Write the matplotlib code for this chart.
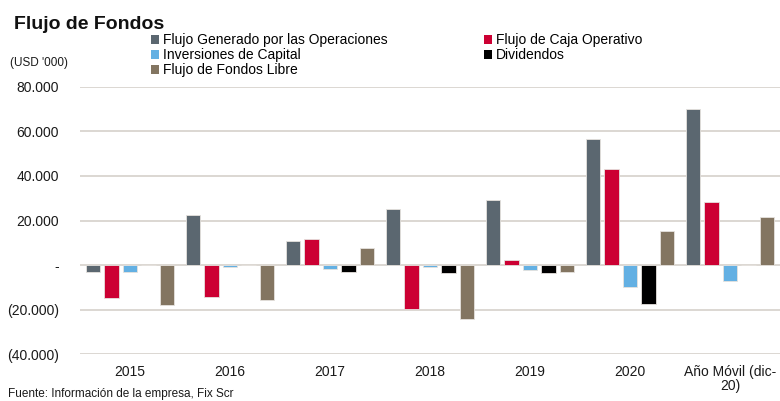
import matplotlib
matplotlib.use("Agg")
import matplotlib.pyplot as plt
import numpy as np
from matplotlib.patches import Patch
from matplotlib.ticker import FuncFormatter, FixedLocator

plt.rcParams['font.family'] = ['Liberation Sans', 'DejaVu Sans']

categories = ["2015", "2016", "2017", "2018", "2019", "2020", "Año Móvil (dic-\n20)"]
series_names = ["Flujo Generado por las Operaciones", "Flujo de Caja Operativo",
                "Inversiones de Capital", "Dividendos", "Flujo de Fondos Libre"]
fgo = [-3200, 22600, 11000, 25100, 29300, 56500, 70000]
fco = [-14800, -14300, 11700, -19900, 2100, 43200, 28100]
inv = [-3300, -1000, -1600, -1000, -2200, -10000, -7000]
div = [0, 0, -2900, -3400, -3400, -17400, 0]
ffl = [-17900, -15700, 7500, -24200, -3300, 15400, 21500]
colors = ["#5B6770", "#CC0033", "#63B0E3", "#000000", "#837561"]
yticks = [-40000, -20000, 0, 20000, 40000, 60000, 80000]

fig = plt.figure(figsize=(7.8, 4.01), dpi=100)
ax = fig.add_axes([80/780, 1 - 354.3/401, 700/780, (354.3 - 86.7)/401])

x = np.arange(len(categories))
pitch = 0.186
width = 0.145
all_series = [fgo, fco, inv, div, ffl]
for i, (vals, c) in enumerate(zip(all_series, colors)):
    ax.bar(x + (i - 2) * pitch, vals, width=width, color=c,
           edgecolor="#E6E2DE", linewidth=0.6, zorder=3)

ax.set_xlim(-0.5, len(categories) - 0.5)
ax.set_ylim(-40000, 80000)
ax.yaxis.set_major_locator(FixedLocator(yticks))


def fmt(v, pos):
    if v == 0:
        return "-"
    s = f"{abs(v):,.0f}".replace(",", ".")
    return f"({s})" if v < 0 else s


ax.yaxis.set_major_formatter(FuncFormatter(fmt))
ax.grid(axis='y', color="#D6D1CB", linewidth=1.2, zorder=0)
ax.set_axisbelow(True)
for sp in ax.spines.values():
    sp.set_visible(False)
ax.tick_params(axis='both', length=0, labelsize=10, colors="#1A1A1A")
ax.tick_params(axis='y', pad=15)
ax.tick_params(axis='x', pad=8)
ax.set_xticks(x)
ax.set_xticklabels(categories, linespacing=1.0)

fig.text(14/780, 1 - 29/401, "Flujo de Fondos", fontsize=14, fontweight='bold',
         color="#111111", ha='left', va='baseline')
fig.text(10/780, 1 - 63/401, "(USD '000)", fontsize=8.5, color="#1A1A1A",
         ha='left', va='center')
fig.text(8/780, 1 - 393.5/401, "Fuente: Información de la empresa, Fix Scr", fontsize=8.5,
         color="#1A1A1A", ha='left', va='center')

handles = [Patch(facecolor=c, edgecolor='none') for c in colors]
leg_kw = dict(frameon=False, fontsize=10, handlelength=0.6, handleheight=0.6,
              handletextpad=0.25, labelspacing=0.08, borderpad=0, borderaxespad=0)
leg1 = fig.legend([handles[0], handles[2], handles[4]],
                  [series_names[0], series_names[2], series_names[4]],
                  loc='upper left', bbox_to_anchor=(151/780, 1 - 33/401), **leg_kw)
leg2 = fig.legend([handles[1], handles[3]], [series_names[1], series_names[3]],
                  loc='upper left', bbox_to_anchor=(484/780, 1 - 33/401), **leg_kw)

fig.savefig("out.png", dpi=100)
